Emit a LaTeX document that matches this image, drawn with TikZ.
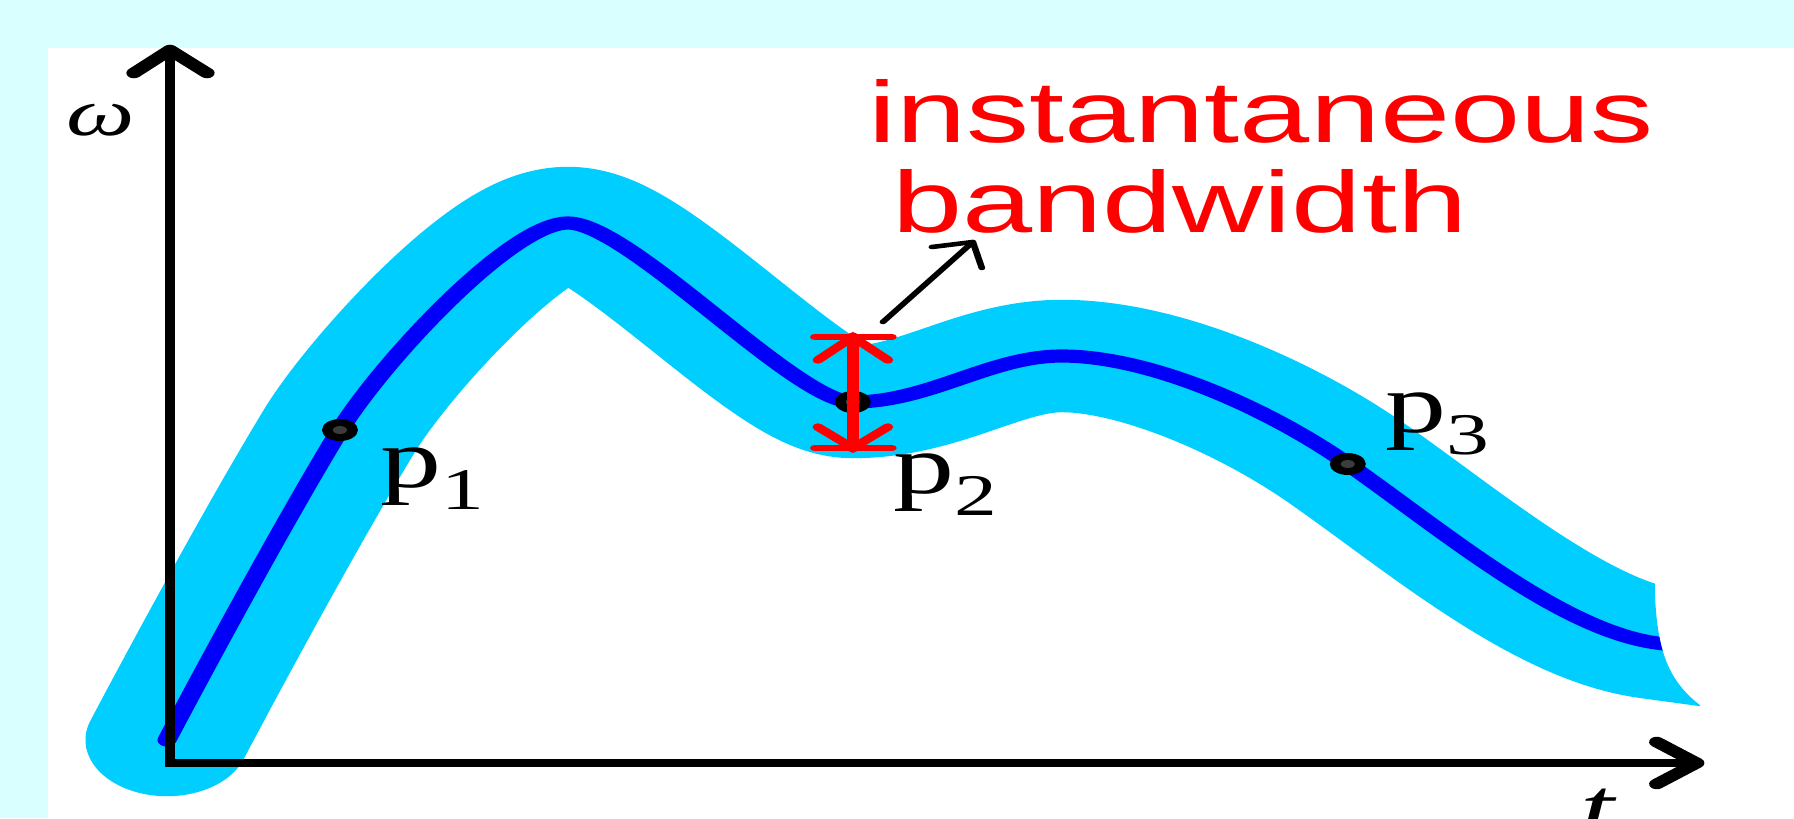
\documentclass[tikz,border=0pt]{standalone}
\usepackage{fontspec}
\newfontfamily\labelsans{Liberation Sans}
\newfontfamily\labelserif{Liberation Serif}
\definecolor{bgcyan}{RGB}{217,255,255}
\definecolor{bandcyan}{RGB}{0,206,255}
\definecolor{curveblue}{RGB}{0,0,250}
\definecolor{dotgray}{RGB}{60,60,60}
\tikzset{
  bandstroke/.style={draw=bandcyan, line width=64pt, line cap=round, line join=round},
  curvestroke/.style={draw=curveblue, line width=7.5pt, line cap=round, line join=round},
  axisline/.style={draw=black, line width=4pt, line join=miter},
  axishead/.style={draw=black, line width=6pt, line cap=round, line join=round},
  redline/.style={draw=red, line width=4.5pt, line cap=round},
  thinarrow/.style={draw=black, line width=2.6pt, line cap=round, line join=round},
  redlbl/.style={anchor=base west, inner sep=0pt, text=red, font=\fontsize{49.5}{56}\selectfont\labelsans},
  ptlbl/.style={anchor=base west, inner sep=0pt, font=\fontsize{48}{56}\selectfont\labelserif}
}
\newcommand\ptname[1]{p\raisebox{-13pt}{\fontsize{33.6}{40}\selectfont #1}}
\def\curvepath{(167,740) .. controls (205,668) and (285,520) .. (340,430)
  .. controls (380,365) and (510,223) .. (568,223)
  .. controls (630,223) and (795,402) .. (853,402)
  .. controls (930,402) and (990,356) .. (1062,356)
  .. controls (1150,356) and (1268,408) .. (1348,464)
  .. controls (1440,528) and (1560,630) .. (1657,643) -- (1760,657)}
\begin{document}
\begin{tikzpicture}[x=0.02cm, y=-0.02cm]
\fill[bgcyan] (0,0) rectangle (1794,818);
\fill[white] (48,48) rectangle (1794,818);
\useasboundingbox (0,0) rectangle (1794,818);
\begin{scope}[transform canvas={xscale=1.45}, x=0.0137931cm, y=-0.02cm]
  % band and curve, cut at the right end
  \begin{scope}
    \clip (0,0) -- (1655,0) -- (1655,590) .. controls (1657,650) and (1668,680) .. (1700,705) -- (1700,818) -- (0,818) -- cycle;
    \draw[bandstroke] \curvepath;
    \draw[curvestroke] \curvepath;
  \end{scope}
  % axes
  \coordinate (ytip) at (170,50);
  \coordinate (orig) at (170,763);
  \coordinate (xtip) at (1697,763);
  \draw[axisline] (ytip) -- (orig) -- (xtip);
  \coordinate (yl) at (134,73);
  \coordinate (yr) at (207,73);
  \draw[axishead] (yl) -- (ytip) -- (yr);
  \coordinate (xu) at (1657,742);
  \coordinate (xd) at (1657,784);
  \draw[axishead] (xu) -- (xtip) -- (xd);
  % points
  \foreach \nm/\px/\py in {d1/340/430, d2/853/402, d3/1348/464} {
    \fill[black] (\px,\py) ellipse [x radius=18, y radius=11];
    \fill[dotgray] (\px,\py) ellipse [x radius=7, y radius=4];
    \coordinate (\nm) at (\px,\py);
  }
  % bandwidth marker
  \coordinate (bwtop) at (853,337);
  \coordinate (bwbot) at (853,448);
  \draw[redline, line width=5pt] (bwtop) -- (bwbot);
  \coordinate (btl) at (815,337);
  \coordinate (btr) at (892,337);
  \coordinate (bbl) at (815,448);
  \coordinate (bbr) at (892,448);
  \draw[redline, line width=3.8pt] (btl) -- (btr);
  \draw[redline, line width=3.8pt] (bbl) -- (bbr);
  \coordinate (atl) at (818,360);
  \coordinate (atr) at (888,360);
  \coordinate (abl) at (818,427);
  \coordinate (abr) at (888,427);
  \draw[redline, line width=4.2pt] (atl) -- (bwtop) -- (atr);
  \draw[redline, line width=4.2pt] (abl) -- (bwbot) -- (abr);
  % pointer arrow
  \coordinate (pa) at (883,322);
  \coordinate (pb) at (973,242);
  \coordinate (pl) at (932,247);
  \coordinate (pr) at (982,268);
  \draw[thinarrow] (pa) -- (pb);
  \draw[thinarrow] (pl) -- (pb) -- (pr);
  % labels
  \node[redlbl] (instlbl) at (868,142) {instantaneous};
  \node[redlbl] (bwlbl) at (892,232) {bandwidth};
  \node[ptlbl] (p1lbl) at (380,487) {\ptname{1}};
  \node[ptlbl] (p2lbl) at (893,493) {\ptname{2}};
  \node[ptlbl] (p3lbl) at (1385,432) {\ptname{3}};
  \node[ptlbl, font=\fontsize{38}{44}\selectfont\labelserif\itshape] (omegalbl) at (66,135) {ω};
  \node[ptlbl, font=\fontsize{48}{56}\selectfont\labelserif\itshape] (tlbl) at (1580,836) {t};
\end{scope}
\end{tikzpicture}
\end{document}
